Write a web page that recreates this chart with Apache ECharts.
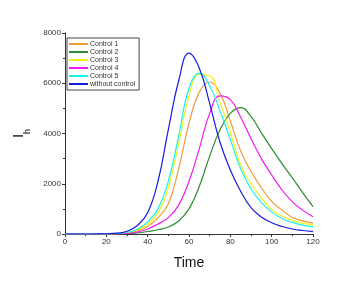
<!DOCTYPE html>
<html>
<head>
<meta charset="utf-8">
<script src="https://cdn.jsdelivr.net/npm/echarts@6/dist/echarts.min.js"></script>
<style>html,body{margin:0;padding:0;background:#fff}#c{width:363px;height:281px}</style>
</head>
<body>
<div id="c"></div>
<script>
var time = [0,5,10,15,20,25,30,35,40,45,50,55,60,65,70,75,80,85,90,95,100,105,110,115,120];
var control1 = [0,0,0,1,3,12,40,120,300,650,1200,2600,4400,5650,6050,5600,4500,3300,2500,1850,1300,950,660,520,430];
var control2 = [0,0,0,0,1,5,15,45,100,170,280,520,1000,1900,3100,4150,4800,5030,4680,4030,3400,2800,2230,1650,1090];
var control3 = [0,0,0,1,4,15,55,160,400,850,1850,3600,5500,6350,6300,5250,4050,2750,2000,1450,980,720,540,430,360];
var control4 = [0,0,0,1,2,8,25,80,200,400,650,1150,2100,3400,4800,5500,5350,4650,3800,3000,2350,1750,1280,950,690];
var control5 = [0,0,0,1,5,20,70,190,480,1000,2100,3900,5800,6400,5900,4900,3750,2600,1800,1250,880,620,460,350,280];
var noControl = [0,0,0,2,10,35,110,340,850,2100,4150,6100,7200,6600,5200,3650,2550,1700,1050,680,450,300,200,140,95];
var seriesNames = ['Control 1','Control 2','Control 3','Control 4','Control 5','without control'];
var seriesData = [control1, control2, control3, control4, control5, noControl];
var colors = ['#F39A3A','#2E8B2E','#F2F21A','#F21AF2','#1AF2F2','#1A1ADD'];

var font = 'Liberation Sans, Arial, sans-serif';
var chart = echarts.init(document.getElementById('c'), null, {renderer:'canvas'});
var series = seriesNames.map(function(n,i){
  return {
    name:n, type:'line', smooth:0.45, showSymbol:false, symbol:'none',
    data: time.map(function(t,j){return [t, seriesData[i][j]];}),
    lineStyle:{color:colors[i], width:1.2},
    itemStyle:{color:colors[i]},
    xAxisIndex:0, yAxisIndex:0, z: 2
  };
});
var axisBase = {
  type:'value', splitLine:{show:false},
  axisLine:{show:true, lineStyle:{color:'#333', width:1}},
  axisTick:{show:true, length:3, lineStyle:{color:'#333'}},
  minorTick:{show:true, splitNumber:2, length:2, lineStyle:{color:'#333'}}
};
var option = {
  animation:false,
  backgroundColor:'#fff',
  grid:{left:65, top:33, width:248, height:201, containLabel:false},
  legend:{
    orient:'vertical', left:67, top:38, padding:[2,4,2,2], itemGap:0,
    itemWidth:19, itemHeight:2, icon:'rect',
    borderColor:'#444', borderWidth:1, borderRadius:0,
    textStyle:{fontSize:7, fontFamily:font, color:'#333', lineHeight:8, padding:[0,0,0,-3]},
    data: seriesNames
  },
  xAxis:[
    Object.assign({}, axisBase, {
      min:0, max:120, interval:20, position:'bottom',
      axisTick:{show:true, length:3, inside:false, lineStyle:{color:'#333'}},
      axisLabel:{fontSize:8, fontFamily:font, color:'#333', margin:4,
        formatter:function(v){return String(v);}},
      name:'Time', nameLocation:'middle', nameGap:22,
      nameTextStyle:{fontSize:14, fontFamily:font, color:'#111'}
    }),
    Object.assign({}, axisBase, {
      min:0, max:120, interval:20, position:'top',
      axisTick:{show:true, length:3, inside:true, lineStyle:{color:'#333'}},
      axisLabel:{show:false}
    })
  ],
  yAxis:[
    Object.assign({}, axisBase, {
      min:0, max:8000, interval:2000, position:'left',
      axisTick:{show:true, length:3, inside:false, lineStyle:{color:'#333'}},
      axisLabel:{fontSize:8, fontFamily:font, color:'#333', margin:4,
        formatter:function(v){return String(v);}},
      name:'{a|I}{b|h}', nameLocation:'middle', nameGap:38, nameRotate:90,
      nameTextStyle:{fontFamily:font, color:'#111',
        rich:{a:{fontSize:15, fontFamily:font, color:'#111'},
              b:{fontSize:9, fontFamily:font, color:'#111', verticalAlign:'bottom', padding:[0,0,-6,0]}}}
    }),
    Object.assign({}, axisBase, {
      min:0, max:8000, interval:2000, position:'right',
      axisTick:{show:true, length:3, inside:true, lineStyle:{color:'#333'}},
      axisLabel:{show:false}
    })
  ],
  series: series
};
chart.setOption(option);
</script>
</body>
</html>
